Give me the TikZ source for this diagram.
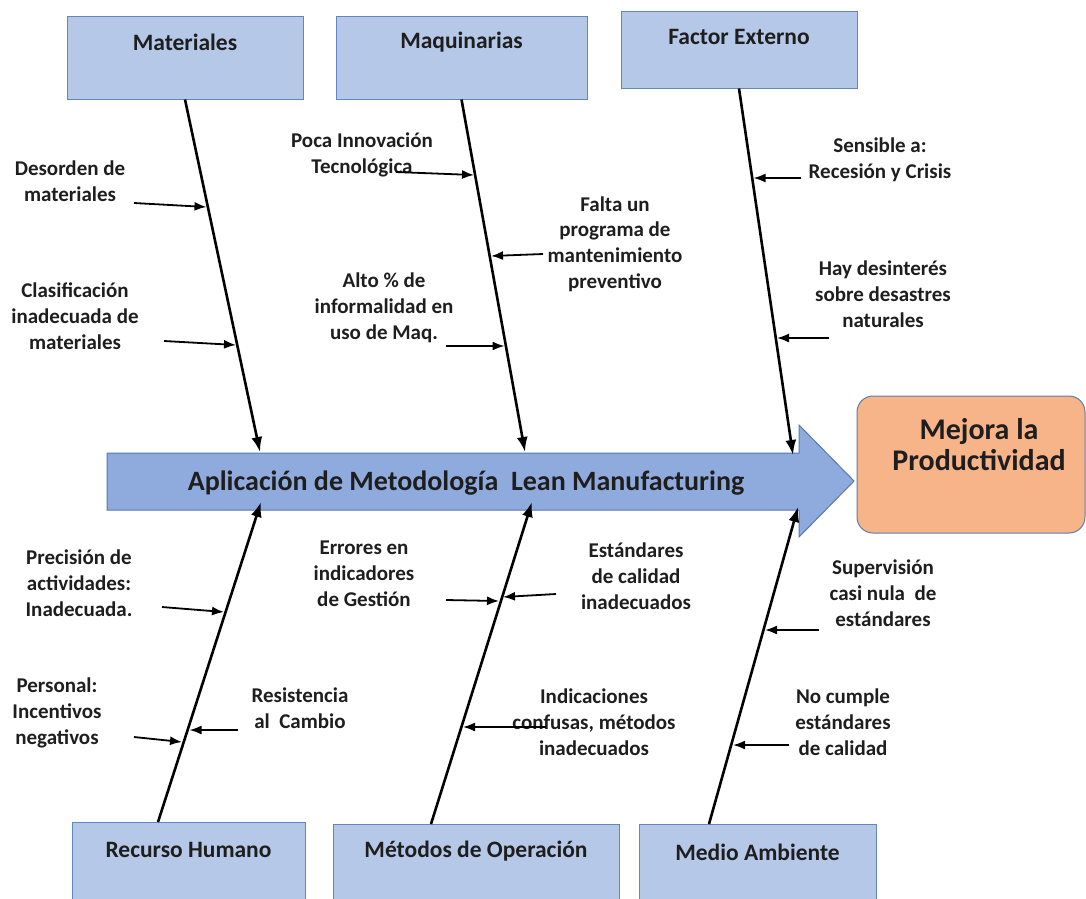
\documentclass[tikz,border=0pt]{standalone}
\usepackage{fontspec}
\setmainfont{Carlito}
\usepackage{xcolor}
\usetikzlibrary{calc}
\usetikzlibrary{arrows.meta}
\tikzset{>={Latex[length=12pt,width=9pt]}}
\definecolor{catfill}{RGB}{182,200,232}
\definecolor{catline}{RGB}{98,134,192}
\definecolor{spinefill}{RGB}{143,170,220}
\definecolor{spineline}{RGB}{84,120,180}
\definecolor{effectfill}{RGB}{246,180,136}
\definecolor{effectline}{RGB}{92,124,176}
\definecolor{ink}{RGB}{30,30,30}
\tikzstyle{catbox}=[draw=catline,line width=1pt,fill=catfill,inner sep=0pt]
\tikzstyle{cattext}=[text=ink,font=\fontsize{23.5}{26}\selectfont\bfseries,inner sep=0pt]
\tikzstyle{causetext}=[text=ink,align=center,font=\fontsize{21}{25.8}\selectfont\bfseries,inner sep=0pt]
\tikzstyle{bone}=[line width=2.6pt,-{Latex[length=15pt,width=11pt]}]
\tikzstyle{cause}=[line width=1.8pt,->]

\begin{document}
\begin{tikzpicture}[x=1pt,y=-1pt]
  \useasboundingbox (0,0) rectangle (1086,898);

  % spine arrow
  \draw[spineline,line width=1pt,fill=spinefill]
    (107,453) -- (799,453) -- (799,425) -- (854,481) -- (799,537) -- (799,510) -- (107,510) -- cycle;
  \node[text=ink,font=\fontsize{28}{30}\selectfont\bfseries,inner sep=0pt]
    (spine) at (466,483) {Aplicación de Metodología~~Lean Manufacturing};

  % effect
  \node[draw=effectline,line width=1pt,fill=effectfill,rounded corners=16pt,
    minimum width=228pt,minimum height=137pt] (effect) at (971,464.5) {};
  \node[text=ink,align=center,font=\fontsize{30}{31}\selectfont\bfseries,inner sep=0pt]
    (effectT) at (979,445) {Mejora la\\Productividad};

  % top categories
  \node[catbox,minimum width=236pt,minimum height=83pt] (mat) at (185,57.5) {};
  \node[cattext] (matT) at (185,42) {Materiales};
  \node[catbox,minimum width=251pt,minimum height=83pt] (maq) at (461.5,57.5) {};
  \node[cattext] (maqT) at (461.5,42) {Maquinarias};
  \node[catbox,minimum width=236pt,minimum height=77pt] (fac) at (739,49.5) {};
  \node[cattext] (facT) at (739,37) {Factor Externo};

  % bottom categories
  \node[catbox,minimum width=233pt,minimum height=90pt] (rh) at (188.5,867) {};
  \node[cattext] (rhT) at (188.5,850) {Recurso Humano};
  \node[catbox,minimum width=286pt,minimum height=90pt] (met) at (476,869) {};
  \node[cattext] (metT) at (476,851) {Métodos de Operación};
  \node[catbox,minimum width=237pt,minimum height=90pt] (med) at (757.5,869) {};
  \node[cattext] (medT) at (757.5,852) {Medio Ambiente};

  % bones
  \coordinate (matE) at (260,452);
  \coordinate (maqE) at (525,452);
  \coordinate (facE) at (793,455);
  \coordinate (rhS) at (158,822);
  \coordinate (rhE) at (261,502);
  \coordinate (metS) at (431,824);
  \coordinate (metE) at (532,502);
  \coordinate (medS) at (709,824);
  \coordinate (medE) at (798,507);
  \draw[bone] (mat.south) -- (matE);
  \draw[bone] (maq.south) -- (maqE);
  \draw[bone] (fac.south) -- (facE);
  \draw[bone] (rhS) -- (rhE);
  \draw[bone] (metS) -- (metE);
  \draw[bone] (medS) -- (medE);

  % causes, top
  \node[causetext] (desT) at (70,181) {Desorden de\\materiales};
  \draw[cause] (134,203) coordinate (desA) -- (206.5,207) coordinate (desB);
  \node[causetext] (claT) at (75,316) {Clasificación\\inadecuada de\\materiales};
  \draw[cause] (164,341) coordinate (claA) -- (236,345) coordinate (claB);
  \node[causetext] (pocT) at (362,155) {Poca Innovación\\Tecnológica};
  \draw[cause] (396,172) coordinate (pocA) -- (474,175) coordinate (pocB);
  \node[causetext] (falT) at (615,244) {Falta un\\programa de\\mantenimiento\\preventivo};
  \draw[cause] (543,254) coordinate (falA) -- (491,256) coordinate (falB);
  \node[causetext] (altT) at (384,308) {Alto \% de\\informalidad en\\uso de Maq.};
  \draw[cause] (446,346) coordinate (altA) -- (504.5,346) coordinate (altB);
  \node[causetext] (senT) at (880,160) {Sensible a:\\Recesión y Crisis};
  \draw[cause] (801,178) coordinate (senA) -- (753.5,178) coordinate (senB);
  \node[causetext] (hayT) at (883,294) {Hay desinterés\\sobre desastres\\naturales};
  \draw[cause] (828.5,338) coordinate (hayA) -- (777,338) coordinate (hayB);

  % causes, bottom
  \node[causetext] (preT) at (79,583) {Precisión de\\actividades:\\Inadecuada.};
  \draw[cause] (162,607) coordinate (preA) -- (224,612) coordinate (preB);
  \node[causetext] (perT) at (57,713) {Personal:\\Incentivos\\negativos};
  \draw[cause] (134,737) coordinate (perA) -- (182,742) coordinate (perB);
  \node[causetext] (resT) at (300,708) {Resistencia\\al~~Cambio};
  \draw[cause] (237.5,730) coordinate (resA) -- (189.5,730) coordinate (resB);
  \node[causetext] (errT) at (364,574) {Errores en\\indicadores\\de Gestión};
  \draw[cause] (446,600) coordinate (errA) -- (499,601) coordinate (errB);
  \node[causetext] (estT) at (636,576) {Estándares\\de calidad\\inadecuados};
  \draw[cause] (556,594) coordinate (estA) -- (503,597) coordinate (estB);
  \node[causetext] (indT) at (594,722) {Indicaciones\\confusas, métodos\\inadecuados};
  \draw[cause] (546,727) coordinate (indA) -- (463,727) coordinate (indB);
  \node[causetext] (supT) at (883,593) {Supervisión\\casi nula~~de\\estándares};
  \draw[cause] (819,630) coordinate (supA) -- (765,630) coordinate (supB);
  \node[causetext] (nocT) at (843,722) {No cumple\\estándares\\de calidad};
  \draw[cause] (789,745) coordinate (nocA) -- (733,745) coordinate (nocB);

\end{tikzpicture}
\end{document}
